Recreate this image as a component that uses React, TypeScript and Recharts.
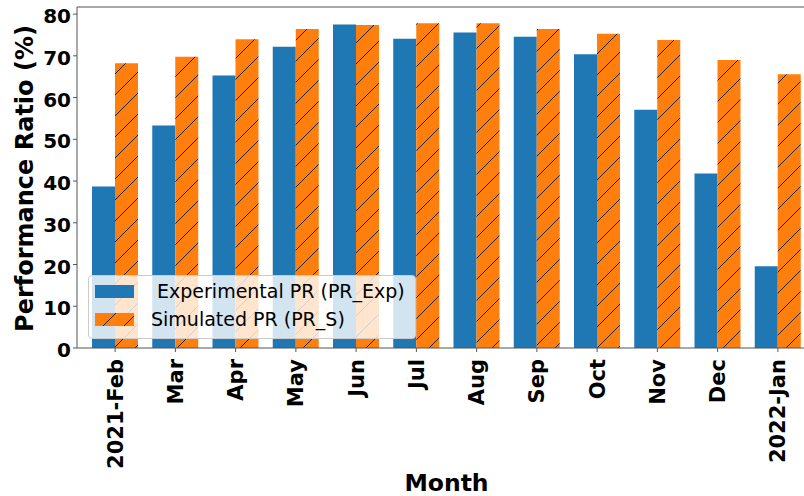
import React from 'react';
import { BarChart, Bar, XAxis, YAxis, ReferenceLine } from 'recharts';

const months = ['2021-Feb', 'Mar', 'Apr', 'May', 'Jun', 'Jul', 'Aug', 'Sep', 'Oct', 'Nov', 'Dec', '2022-Jan'];
const prExp = [38.7, 53.3, 65.3, 72.2, 77.5, 74.1, 75.6, 74.6, 70.4, 57.1, 41.8, 19.6];
const prSim = [68.2, 69.8, 74.0, 76.4, 77.4, 77.8, 77.8, 76.4, 75.3, 73.8, 69.0, 65.6];
const yTicks = [0, 10, 20, 30, 40, 50, 60, 70, 80];
const yMax = 81.7;

const FONT = '"DejaVu Sans", sans-serif';
const BLUE = '#1f77b4';
const ORANGE = '#ff7f0e';
const AXIS = '#555';

const data = months.map((m, i) => ({ month: m, exp: prExp[i], sim: prSim[i] }));

const XTick = ({ x, y, payload }: any) => (
  <g transform={`translate(${x},${y})`}>
    <text
      transform="rotate(-90)"
      x={-5}
      y={0}
      dy="0.36em"
      textAnchor="end"
      fontSize={21}
      fontWeight="bold"
      fontFamily={FONT}
      fill="#000"
    >
      {payload.value}
    </text>
  </g>
);

const YTick = ({ x, y, payload }: any) => (
  <text x={x} y={y} dy={9} textAnchor="end" fontSize={20} fontWeight="bold" fontFamily={FONT} fill="#000">
    {payload.value}
  </text>
);

const YTitle = ({ viewBox }: any) => {
  const cx = 33;
  const cy = viewBox.y + viewBox.height / 2 + 1;
  return (
    <text
      transform={`rotate(-90, ${cx}, ${cy})`}
      x={cx}
      y={cy}
      textAnchor="middle"
      fontSize={24}
      fontWeight="bold"
      fontFamily={FONT}
      fill="#000"
    >
      Performance Ratio (%)
    </text>
  );
};

const XTitle = ({ viewBox }: any) => (
  <text
    x={viewBox.x + viewBox.width / 2}
    y={491}
    textAnchor="middle"
    fontSize={23.5}
    fontWeight="bold"
    fontFamily={FONT}
    fill="#000"
  >
    Month
  </text>
);

const HatchDefs = ({ id }: { id: string }) => (
  <pattern id={id} patternUnits="userSpaceOnUse" width={21} height={21}>
    <rect width={21} height={21} fill={ORANGE} />
    <path d="M-2,2 L2,-2 M0,21 L21,0 M19,23 L23,19" stroke="#222" strokeWidth={1} />
  </pattern>
);

const LegendBox = () => (
  <div
    style={{
      position: 'absolute',
      left: 88,
      top: 275,
      width: 326,
      height: 62,
      background: 'rgba(255,255,255,0.8)',
      border: '1px solid #ccc',
      borderRadius: 4,
      fontFamily: FONT,
      fontSize: 19,
      color: '#000',
    }}
  >
    <div style={{ position: 'absolute', left: 6, top: 9, width: 39, height: 13, background: BLUE }} />
    <div style={{ position: 'absolute', left: 62, top: 4, whiteSpace: 'pre', lineHeight: '22px' }}>
      {' Experimental PR (PR_Exp)'}
    </div>
    <svg style={{ position: 'absolute', left: 6, top: 37 }} width={39} height={13}>
      <defs>
        <HatchDefs id="hatchLegend" />
      </defs>
      <rect width={39} height={13} fill="url(#hatchLegend)" />
    </svg>
    <div style={{ position: 'absolute', left: 62, top: 32, whiteSpace: 'pre', lineHeight: '22px' }}>
      Simulated PR (PR_S)
    </div>
  </div>
);

export default function App() {
  return (
    <div style={{ position: 'relative', width: 804, height: 496, overflow: 'hidden', background: '#fff' }}>
      <style>{'body{margin:0}'}</style>
      <BarChart
        width={816}
        height={496}
        data={data}
        margin={{ top: 7, right: 0, bottom: 0, left: 0 }}
        barGap={0}
        barSize={23}
      >
        <defs>
          <HatchDefs id="hatchBar" />
        </defs>
        <XAxis
          dataKey="month"
          height={148}
          padding={{ left: 8, right: 8 }}
          tick={<XTick />}
          tickSize={4}
          tickMargin={2}
          interval={0}
          axisLine={{ stroke: AXIS }}
          tickLine={{ stroke: AXIS }}
          label={<XTitle />}
        />
        <YAxis
          width={77}
          domain={[0, yMax]}
          ticks={yTicks}
          tick={<YTick />}
          tickSize={4}
          tickMargin={2}
          axisLine={{ stroke: AXIS }}
          tickLine={{ stroke: AXIS }}
          label={<YTitle />}
        />
        <ReferenceLine y={yMax} stroke={AXIS} />
        <Bar dataKey="exp" fill={BLUE} isAnimationActive={false} />
        <Bar dataKey="sim" fill="url(#hatchBar)" isAnimationActive={false} />
      </BarChart>
      <LegendBox />
    </div>
  );
}
